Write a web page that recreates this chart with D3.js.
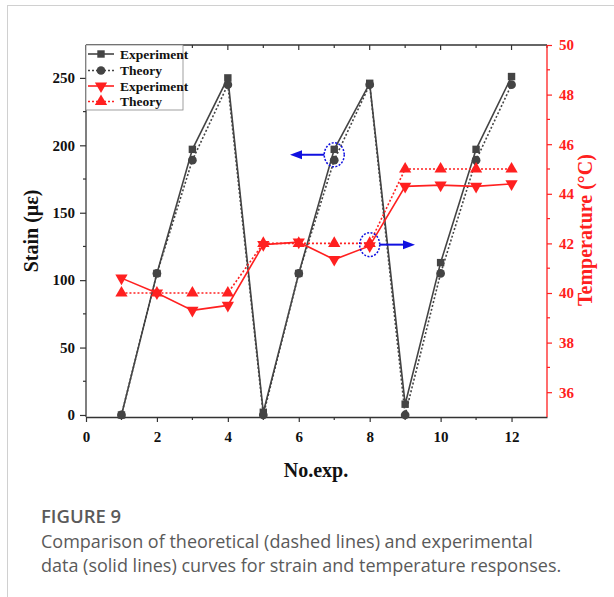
<!DOCTYPE html>
<html><head><meta charset="utf-8">
<script src="https://cdn.jsdelivr.net/npm/d3@7"></script>
<style>body{margin:0;background:#fff}</style>
</head><body>
<script>
const runs = [1,2,3,4,5,6,7,8,9,10,11,12];
const strainExp = [0,105,197,250,2,105,197,246,8,113,197,251];
const strainTheory = [0,105,189,245,0,105,189,245,0,105,189,245];
const tempExp = [40.6,40.0,39.3,39.5,41.95,42.05,41.35,41.9,44.3,44.35,44.3,44.4];
const tempTheory = [40,40,40,40,42,42,42,42,45,45,45,45];
const xTicks = [0,2,4,6,8,10,12];
const yLeftTicks = [0,50,100,150,200,250];
const yRightTicks = [36,38,40,42,44,46,48,50];
const legendLabels = ["Experiment","Theory","Experiment","Theory"];

const W=614,H=597;
const svg=d3.select("body").append("svg").attr("width",W).attr("height",H);
svg.append("rect").attr("x",7.5).attr("y",5.5).attr("width",W).attr("height",H).attr("fill","none").attr("stroke","#d0d0d0");

const L=86,R=547,T=45,B=417;
const x=d3.scaleLinear().domain([0,13]).range([L,R]);
const yL=d3.scaleLinear().domain([-1.5,274.4]).range([B,T]);
const yR=d3.scaleLinear().domain([35,50]).range([B,T]);
const serif="'Liberation Serif','Times New Roman',serif";
const dark="#333", red="#ff2020";

// frame
svg.append("line").attr("x1",L).attr("x2",R).attr("y1",T).attr("y2",T).attr("stroke",dark).attr("stroke-width",1.5);
const topG=svg.append("g");
d3.range(0,14).forEach(v=>{topG.append("line").attr("x1",x(v)).attr("x2",x(v)).attr("y1",T).attr("y2",T+(v%2===0?5:3)).attr("stroke",dark).attr("stroke-width",1.2);});

// bottom axis
const xa=svg.append("g").attr("transform",`translate(0,${B})`)
 .call(d3.axisBottom(x).tickValues(xTicks).tickSize(5).tickSizeOuter(0).tickPadding(9).tickFormat(d3.format("d")));
xa.select(".domain").attr("stroke",dark).attr("stroke-width",1.5);
xa.selectAll(".tick line").attr("stroke",dark).attr("stroke-width",1.2);
xa.selectAll("text").attr("font-family",serif).attr("font-weight","bold").attr("font-size",15).attr("fill","#111");
d3.range(1,13,2).forEach(v=>xa.append("line").attr("x1",x(v)).attr("x2",x(v)).attr("y1",0).attr("y2",3).attr("stroke",dark).attr("stroke-width",1.2));

// left axis
const ya=svg.append("g").attr("transform",`translate(${L},0)`)
 .call(d3.axisLeft(yL).tickValues(yLeftTicks).tickSize(6).tickSizeOuter(0).tickPadding(5));
ya.select(".domain").attr("stroke","#555").attr("stroke-width",1.5).attr("d",`M0,${B}V${T}`);
ya.selectAll(".tick line").attr("stroke",dark).attr("stroke-width",1.2);
ya.selectAll("text").attr("font-family",serif).attr("font-weight","bold").attr("font-size",15).attr("fill","#111");
d3.range(25,275,50).forEach(v=>ya.append("line").attr("x1",0).attr("x2",-3).attr("y1",yL(v)).attr("y2",yL(v)).attr("stroke",dark).attr("stroke-width",1.2));

// right axis
const ra=svg.append("g").attr("transform",`translate(${R},0)`)
 .call(d3.axisRight(yR).tickValues(yRightTicks).tickSize(5).tickSizeOuter(0).tickPadding(7));
ra.select(".domain").attr("stroke",red).attr("stroke-width",1.3).attr("d",`M0,${B}V${T}`);
ra.selectAll(".tick line").attr("stroke",red).attr("stroke-width",1.2);
ra.selectAll("text").attr("font-family",serif).attr("font-weight","bold").attr("font-size",15).attr("fill",red);
d3.range(37,50,2).forEach(v=>ra.append("line").attr("x1",0).attr("x2",3).attr("y1",yR(v)).attr("y2",yR(v)).attr("stroke",red).attr("stroke-width",1.2));

// axis titles
svg.append("text").attr("transform",`translate(38,231) rotate(-90)`).attr("text-anchor","middle")
 .attr("font-family",serif).attr("font-weight","bold").attr("font-size",20).attr("fill","#111").text("Stain (με)");
svg.append("text").attr("x",316).attr("y",477).attr("text-anchor","middle")
 .attr("font-family",serif).attr("font-weight","bold").attr("font-size",20).attr("fill","#111").text("No.exp.");
svg.append("text").attr("transform",`translate(592,230) rotate(-90)`).attr("text-anchor","middle")
 .attr("font-family",serif).attr("font-weight","bold").attr("font-size",20).attr("fill",red).text("Temperature (°C)");

// series
const sq=d3.symbol().type(d3.symbolSquare).size(55);
const ci=d3.symbol().type(d3.symbolCircle).size(60);
const triUp=d3.symbol().type(d3.symbolTriangle).size(65);
const grey="#444";
function series(vals,scale,color,dash,sym,rot){
  const line=d3.line().x((d,i)=>x(runs[i])).y(d=>scale(d));
  svg.append("path").attr("d",line(vals)).attr("fill","none").attr("stroke",color).attr("stroke-width",1.6).attr("stroke-dasharray",dash);
  svg.append("g").selectAll("path").data(vals).join("path").attr("d",sym)
   .attr("transform",(d,i)=>`translate(${x(runs[i])},${scale(d)}) rotate(${rot})`).attr("fill",color);
}
series(strainTheory,yL,grey,"2,2",ci,0);
series(strainExp,yL,grey,null,sq,0);
series(tempTheory,yR,red,"2,2",triUp,0);
series(tempExp,yR,red,null,triUp,180);

// annotations
const blue="#1010e0";
function ring(cx,cy){svg.append("ellipse").attr("cx",cx).attr("cy",cy).attr("rx",10).attr("ry",12).attr("fill","none").attr("stroke",blue).attr("stroke-width",1.5).attr("stroke-dasharray","2,1.5");}
const a1x=x(7), a1y=yL(193), a2x=x(8), a2y=yR(41.95);
ring(a1x,a1y); ring(a2x,a2y);
function arrow(x1,x2,y){
  const dir=Math.sign(x2-x1);
  svg.append("line").attr("x1",x1).attr("x2",x2-dir*8).attr("y1",y).attr("y2",y).attr("stroke",blue).attr("stroke-width",2);
  svg.append("path").attr("d",`M${x2},${y}L${x2-dir*12},${y-4.5}L${x2-dir*12},${y+4.5}Z`).attr("fill",blue);
}
arrow(a1x-10,290,a1y);
arrow(a2x+10,415,a2y);

// legend
const lg=svg.append("g");
lg.append("rect").attr("x",L).attr("y",T).attr("width",97).attr("height",65).attr("fill","#fff").attr("stroke","#888").attr("stroke-width",0.8);
const lgY=[54,70.5,86,101.5];
const lgCol=[grey,grey,red,red], lgDash=[null,"2,2",null,"2,2"], lgSym=[sq,ci,triUp,triUp], lgRot=[0,0,180,0];
legendLabels.forEach((t,i)=>{
  lg.append("line").attr("x1",L+2).attr("x2",L+28).attr("y1",lgY[i]).attr("y2",lgY[i]).attr("stroke",lgCol[i]).attr("stroke-width",1.6).attr("stroke-dasharray",lgDash[i]);
  lg.append("path").attr("d",lgSym[i]).attr("transform",`translate(${L+15},${lgY[i]}) rotate(${lgRot[i]})`).attr("fill",lgCol[i]);
  lg.append("text").attr("x",L+34).attr("y",lgY[i]+4.5).attr("font-family",serif).attr("font-weight","bold").attr("font-size",13.5).attr("fill","#111").text(t);
});

// caption
const sans="'Open Sans','Noto Sans',sans-serif";
svg.append("text").attr("x",41).attr("y",523).attr("font-family",sans).attr("font-weight",600).attr("font-size",18.5).attr("fill","#5a5a5a").text("FIGURE 9");
svg.append("text").attr("x",41).attr("y",548).attr("font-family",sans).attr("font-size",18).attr("fill","#5a5a5a").text("Comparison of theoretical (dashed lines) and experimental");
svg.append("text").attr("x",41).attr("y",572).attr("font-family",sans).attr("font-size",18).attr("fill","#5a5a5a").text("data (solid lines) curves for strain and temperature responses.");
</script>
</body></html>
